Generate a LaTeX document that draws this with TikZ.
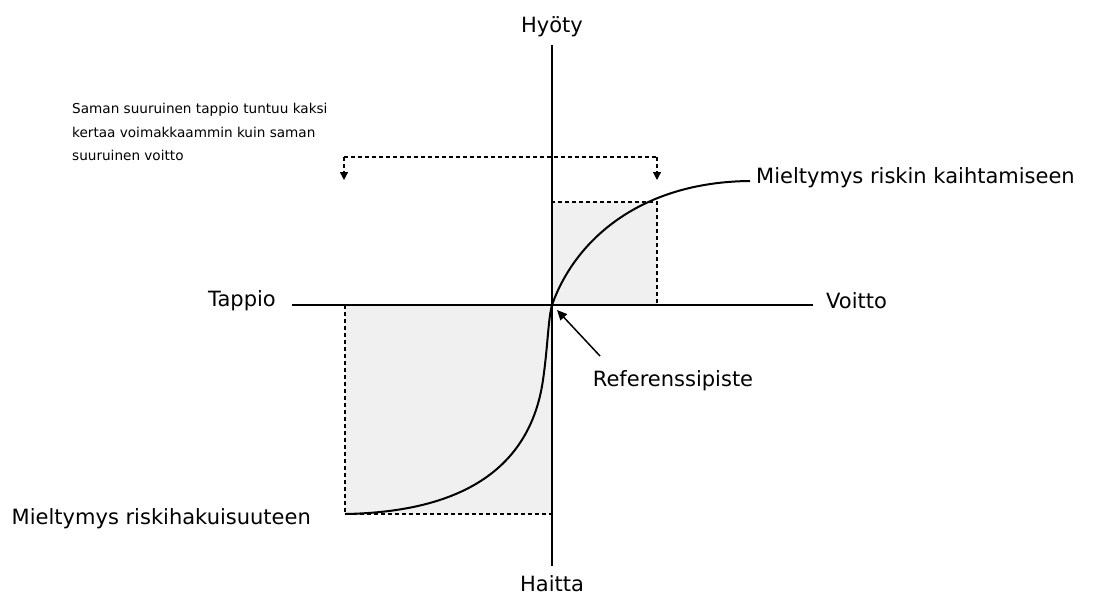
\documentclass[tikz,border=0pt]{standalone}
\usepackage{fontspec}
\setmainfont{DejaVu Sans}
\usetikzlibrary{arrows.meta}
\begin{document}
\begin{tikzpicture}[x=1pt,y=-1pt,
  lbl/.style={font=\fontsize{21}{24}\selectfont, inner sep=0pt},
  small/.style={font=\fontsize{13.6}{23.5}\selectfont, inner sep=0pt, align=left},
  axis/.style={line width=1.5pt},
  guide/.style={line width=1.2pt, dash pattern=on 4pt off 3pt},
  box/.style={fill=black!6, draw=black, line width=1.2pt, dash pattern=on 4pt off 3pt},
  curve/.style={line width=2pt},
  tip/.style={-{Triangle[length=8pt,width=8pt]}}
]
\useasboundingbox (0,0) rectangle (1114,597);
% boxes
\draw[box] (552,202) rectangle (657,305);
\draw[box] (345,305) rectangle (552,514);
% axes
\coordinate (O) at (552,305);
\coordinate (xl) at (292,305);
\coordinate (xr) at (813,305);
\coordinate (yt) at (552,45);
\coordinate (yb) at (552,566);
\draw[axis] (xl) -- (xr);
\draw[axis] (yt) -- (yb);
\node[lbl] (hy) at (552,27) {Hyöty};
\node[lbl] (ha) at (552,584) {Haitta};
\node[lbl, anchor=east] (ta) at (276,301) {Tappio};
\node[lbl, anchor=west] (vo) at (826,301) {Voitto};
% curve
\coordinate (ce) at (750,181);
\coordinate (cs) at (345,514);
\draw[curve] (cs) .. controls (460,512) and (530,470) .. (543,380)
  .. controls (548,345) and (548,320) .. (O)
  .. controls (575,240) and (640,182) .. (ce);
\node[lbl, anchor=west] (mk) at (756,178) {Mieltymys riskin kaihtamiseen};
\node[lbl, anchor=east] (mh) at (311,519) {Mieltymys riskihakuisuuteen};
% reference point
\node[lbl] (ref) at (673,381) {Referenssipiste};
\coordinate (rs) at (600,356);
\draw[line width=1.5pt, -{Triangle[length=10pt,width=9pt]}] (rs) -- (557,310);
% bracket
\coordinate (bl) at (344,180);
\coordinate (br) at (657,180);
\draw[guide, tip] (344,157) -- (bl);
\draw[guide] (344,157) -- (657,157);
\draw[guide, tip] (657,157) -- (br);
\node[small, anchor=north west] (note) at (72,103) {Saman suuruinen tappio tuntuu kaksi\\kertaa voimakkaammin kuin saman\\suuruinen voitto};
\end{tikzpicture}
\end{document}
